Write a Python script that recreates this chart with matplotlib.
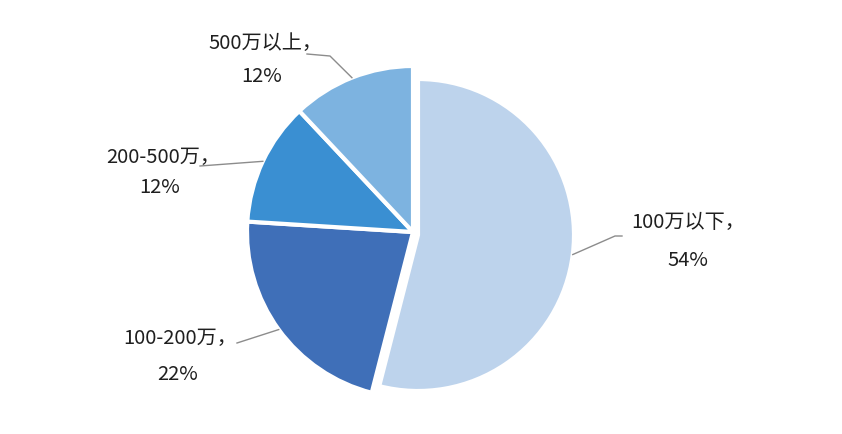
import numpy as np
import matplotlib.pyplot as plt

plt.rcParams['font.family'] = ['Noto Sans CJK SC', 'DejaVu Sans']

#############################################################################

labels = ['100万以下', '100-200万', '200-500万', '500万以上']
values = [54, 22, 12, 12]
colors = ['#bdd3ec', '#3f6fb8', '#3a8fd2', '#7db3e0']

# label centres (pixel coords, y down) and leader line outer points
name_pos = [(688, 222), (180, 338), (163, 157), (265, 43)]
pct_pos = [(688, 260), (178, 375), (160, 188), (262, 76)]
leader_out = [[(622, 237), (615, 237)], [(237, 344)], [(200, 167)], [(307, 55), (330, 57)]]

W, H = 842, 435
CX, CY, R = 413, H - 233, 166
R_BIG = 156            # the 54% slice is drawn a bit smaller in the original
BIG_SHIFT = (5, -3)    # and pulled out to the right / down

#############################################################################

fig = plt.figure(figsize=(W / 100, H / 100), dpi=100)
ax = fig.add_axes([0, 0, 1, 1])

wedges, _ = ax.pie(values, colors=colors, startangle=90,
                   counterclock=False, center=(CX, CY), radius=R,
                   wedgeprops=dict(edgecolor='white', linewidth=3))
wedges[0].set_radius(R_BIG)
wedges[0].set_center((CX + BIG_SHIFT[0], CY + BIG_SHIFT[1]))

ax.set_xlim(0, W)
ax.set_ylim(0, H)
ax.set_aspect('equal')
ax.axis('off')

for i, w in enumerate(wedges):
    ang = np.deg2rad((w.theta1 + w.theta2) / 2)
    cx, cy = w.center
    ex, ey = cx + w.r * np.cos(ang), cy + w.r * np.sin(ang)
    pts = [(x, H - y) for x, y in leader_out[i]] + [(ex, ey)]
    ax.plot([p[0] for p in pts], [p[1] for p in pts], color='#8c8c8c', lw=1)
    nx, ny = name_pos[i]
    px, py = pct_pos[i]
    ax.text(nx, H - ny, labels[i] + '，', ha='center', va='center',
            fontsize=14.5, color='#1f1f1f')
    ax.text(px, H - py, f'{values[i]}%', ha='center', va='center',
            fontsize=14.5, color='#1f1f1f')

fig.savefig('out.png', dpi=100)
